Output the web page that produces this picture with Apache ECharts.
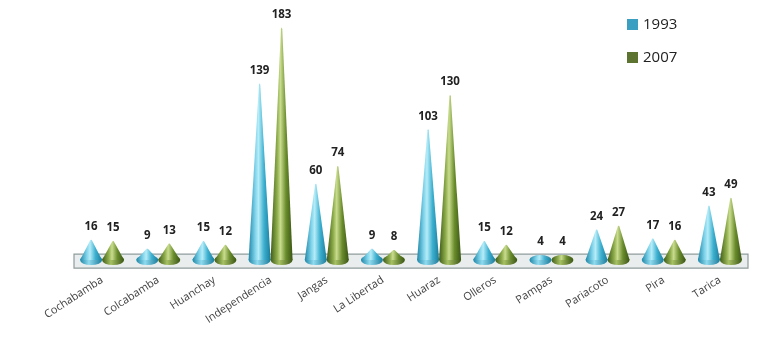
<!DOCTYPE html>
<html><head><meta charset="utf-8">
<script src="https://cdn.jsdelivr.net/npm/echarts@6/dist/echarts.min.js"></script>
<style>html,body{margin:0;padding:0;background:#fff}#c{width:763px;height:350px}</style>
</head><body><div id="c"></div>
<script>
const categories = ['Cochabamba','Colcabamba','Huanchay','Independencia','Jangas','La Libertad','Huaraz','Olleros','Pampas','Pariacoto','Pira','Tarica'];
const values1993 = [16,9,15,139,60,9,103,15,4,24,17,43];
const values2007 = [15,13,12,183,74,8,130,12,4,27,16,49];
const seriesNames = ['1993','2007'];

const chart = echarts.init(document.getElementById('c'), null, {renderer:'canvas'});
const G = echarts.graphic.LinearGradient;
const blueGrad = new G(0,0,1,0,[{offset:0,color:'#1f87a8'},{offset:0.3,color:'#7fd3ea'},{offset:0.45,color:'#b5ecf8'},{offset:0.7,color:'#3db0d0'},{offset:1,color:'#1a7c9c'}]);
const greenGrad = new G(0,0,1,0,[{offset:0,color:'#3f5c18'},{offset:0.3,color:'#8fae4c'},{offset:0.45,color:'#c9dc8e'},{offset:0.7,color:'#6a8c2c'},{offset:1,color:'#3a5514'}]);
const cone = 'path://M0,1 L0.47,0.015 Q0.5,0 0.53,0.015 L1,1 Z';
const OFF = 11;
const legendColors = {'1993':'#3a9fc0','2007':'#5c7430'};

function coneSeries(name, data, grad, dx){
  return {
    name, type:'pictorialBar', data, barWidth:22, barGap:'-100%', z:5,
    symbol: cone, symbolSize:[22,'100%'], symbolOffset:[dx,0],
    itemStyle:{color:grad},
    label:{show:true, position:'top', offset:[dx,-2], color:'#222', fontWeight:'bold', fontSize:11.5, fontFamily:'Open Sans'}
  };
}
function baseSeries(name, data, grad, dx){
  return {
    name, type:'pictorialBar', data, barWidth:22, barGap:'-100%', z:4,
    symbol:'circle', symbolPosition:'start', symbolSize:[22,10], symbolOffset:[dx,'50%'],
    itemStyle:{color:grad}
  };
}

chart.setOption({
  animation:false,
  legend:{
    data:seriesNames.map(n => ({name:n, itemStyle:{color:legendColors[n]}})),
    orient:'vertical', left:622, top:12, itemGap:18,
    itemWidth:11, itemHeight:11, icon:'rect',
    textStyle:{fontSize:15, color:'#222', fontFamily:'Open Sans'}
  },
  grid:{left:74, right:15, top:6, bottom:81},
  xAxis:{
    type:'category', data:categories,
    axisLine:{show:false}, axisTick:{show:false},
    axisLabel:{rotate:33, interval:0, margin:10, fontSize:11, color:'#444', fontFamily:'Open Sans'}
  },
  yAxis:{type:'value', min:-7, max:200, show:false, splitLine:{show:false}},
  series:[
    {
      name:'floor', type:'line', data:[], z:1, silent:true,
      markArea:{silent:true, itemStyle:{color:'#e9eded', borderColor:'#8f9c9c', borderWidth:1.2},
        data:[[{yAxis:-6.3},{yAxis:4.7}]]}
    },
    baseSeries('1993', values1993, new G(0,0,1,0,[{offset:0,color:'#1f87a8'},{offset:0.4,color:'#8fdaee'},{offset:1,color:'#1a7c9c'}]), -OFF),
    coneSeries('1993', values1993, blueGrad, -OFF),
    baseSeries('2007', values2007, new G(0,0,1,0,[{offset:0,color:'#3f5c18'},{offset:0.4,color:'#a6c163'},{offset:1,color:'#3a5514'}]), OFF),
    coneSeries('2007', values2007, greenGrad, OFF)
  ]
});
</script></body></html>
